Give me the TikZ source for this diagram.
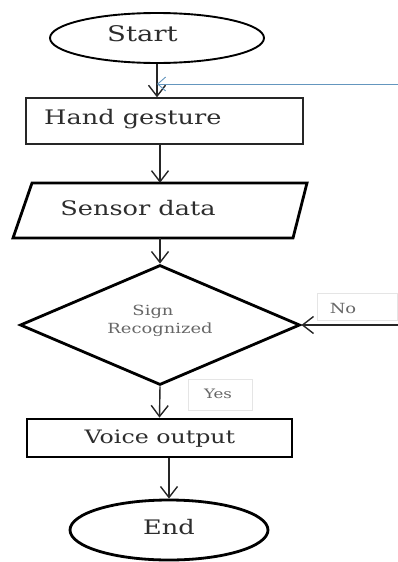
\documentclass[tikz,border=0pt]{standalone}
\usepackage{fontspec}
\setmainfont{DejaVu Serif}[FakeStretch=1.28]
\usetikzlibrary{arrows.meta,shapes.geometric}
\definecolor{loopblue}{RGB}{100,150,190}
\definecolor{txtgray}{RGB}{45,45,45}
\begin{document}
\begin{tikzpicture}[x=1pt,y=-1pt,
  bigtxt/.style={font=\fontsize{20}{24}\selectfont, text=txtgray, inner sep=0, anchor=base},
  smalltxt/.style={font=\fontsize{14}{17}\selectfont, text=black!60, inner sep=0, anchor=base},
  ln/.style={line width=1.4pt, draw=black!85},
  arr/.style={ln, -{Straight Barb[length=11pt,width=17pt]}},
  bluearr/.style={line width=0.9pt, draw=loopblue, -{Straight Barb[length=8pt,width=14pt]}},
  thick box/.style={draw=black, line width=2.8pt, inner sep=0},
  lblbox/.style={draw=black!10, line width=0.8pt, fill=white, inner sep=0}]
\useasboundingbox (0,0) rectangle (398,562);
% shapes
\node[ellipse, draw=black, line width=1.9pt, minimum width=214pt, minimum height=50pt, inner sep=0] (start) at (157,38) {};
\node[draw=black!85, line width=1.3pt, minimum width=277pt, minimum height=46pt, inner sep=0] (hand) at (164.5,121) {};
\node[inner sep=0, minimum width=280pt, minimum height=55pt] (sensor) at (160,210.5) {};
\draw[black, line width=2.8pt, line join=miter] (32,183) -- (307,183) -- (293,238) -- (13,238) -- cycle;
\node[diamond, thick box, minimum width=280pt, minimum height=120pt] (dec) at (160,325) {};
\node[thick box, minimum width=265pt, minimum height=38pt] (voice) at (159.5,438) {};
\node[ellipse, thick box, minimum width=198pt, minimum height=60pt] (endn) at (169,530) {};
% label boxes
\node[lblbox, minimum width=80pt, minimum height=27pt] (nobox) at (357,306.5) {};
\node[lblbox, minimum width=64pt, minimum height=31pt] (yesbox) at (220,394.5) {};
% texts
\node[bigtxt, font=\fontsize{21.5}{25}\selectfont] (starttxt) at (142.5,41.5) {Start};
\node[bigtxt, anchor=base west] (handtxt) at (44,124) {Hand gesture};
\node[bigtxt] (sensortxt) at (138,215) {Sensor data};
\node[smalltxt] (signtxt) at (153,315) {Sign};
\node[smalltxt] (rectxt) at (160,333) {Recognized};
\node[smalltxt] (notxt) at (343,313) {No};
\node[smalltxt, font=\fontsize{13}{16}\selectfont] (yestxt) at (218,398) {Yes};
\node[bigtxt, font=\fontsize{18.5}{22}\selectfont] (voicetxt) at (160,443) {Voice output};
\node[bigtxt] (endtxt) at (169,534) {End};
% connectors
\coordinate (loopin) at (398,84);
\coordinate (noin) at (398,325);
\draw[arr] (start.south) -- (start.south |- hand.north);
\draw[arr] (sensor.north |- hand.south) -- (sensor.north);
\draw[arr] (sensor.south) -- (dec.north);
\draw[arr] (dec.south) -- (voice.north);
\draw[arr] (voice.south -| endn.north) -- (endn.north);
\draw[bluearr] (loopin) -- (loopin -| start.south);
\draw[arr] (noin) -- (dec.east);
\end{tikzpicture}
\end{document}
